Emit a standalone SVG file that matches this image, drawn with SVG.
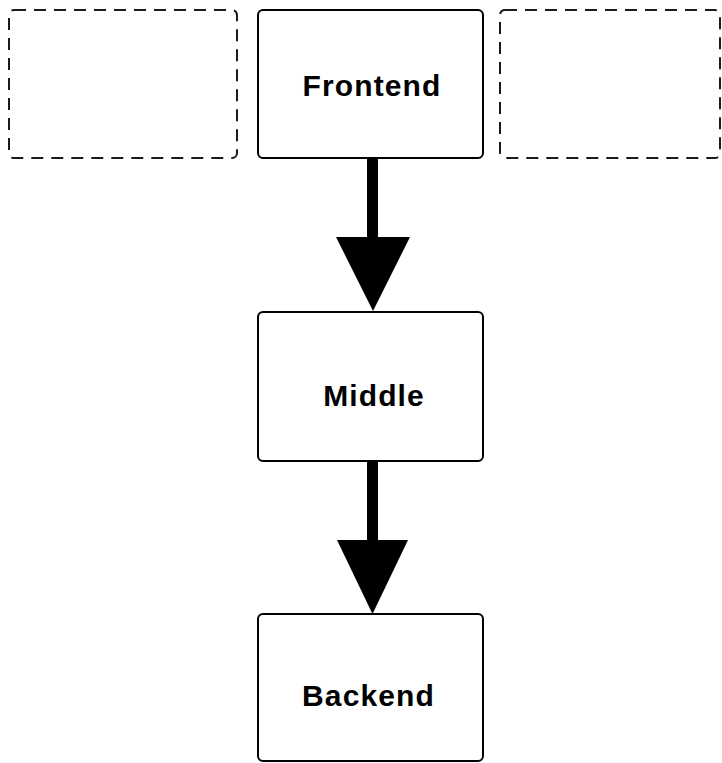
<svg xmlns="http://www.w3.org/2000/svg" width="722" height="763" viewBox="0 0 722 763">
  <style>
    .box { fill: #ffffff; stroke: #000000; stroke-width: 2; }
    .ghost { fill: none; stroke: #1a1a1a; stroke-width: 2; stroke-dasharray: 12 8; }
    .label { font-family: "Liberation Sans", Arial, Helvetica, sans-serif; font-weight: bold; font-size: 30px; letter-spacing: 1.1px; fill: #000000; text-anchor: middle; }
    .shaft { stroke: #000000; stroke-width: 11; }
    .head { fill: #000000; }
  </style>
  <rect width="722" height="763" fill="#ffffff"/>

  <!-- empty placeholder slots beside the frontend -->
  <g id="slot-left">
    <rect class="ghost" x="9" y="10" width="228" height="148" rx="5" ry="5"/>
  </g>
  <g id="slot-right">
    <rect class="ghost" x="500" y="10" width="220" height="148" rx="5" ry="5"/>
  </g>

  <!-- tiers -->
  <g id="frontend">
    <rect class="box" x="258" y="10" width="225" height="148" rx="5" ry="5"/>
    <text class="label" x="372" y="96">Frontend</text>
  </g>
  <g id="middle">
    <rect class="box" x="258" y="312" width="225" height="149" rx="5" ry="5"/>
    <text class="label" x="374" y="406">Middle</text>
  </g>
  <g id="backend">
    <rect class="box" x="258" y="614" width="225" height="147" rx="5" ry="5"/>
    <text class="label" x="368.5" y="706">Backend</text>
  </g>

  <!-- connectors -->
  <g id="connectors">
    <line class="shaft" x1="372.5" y1="159" x2="372.5" y2="240"/>
    <polygon class="head" points="336,237 410,237 373,311"/>
    <line class="shaft" x1="372.5" y1="461" x2="372.5" y2="543"/>
    <polygon class="head" points="337,540 408,540 372.5,614"/>
  </g>
</svg>
